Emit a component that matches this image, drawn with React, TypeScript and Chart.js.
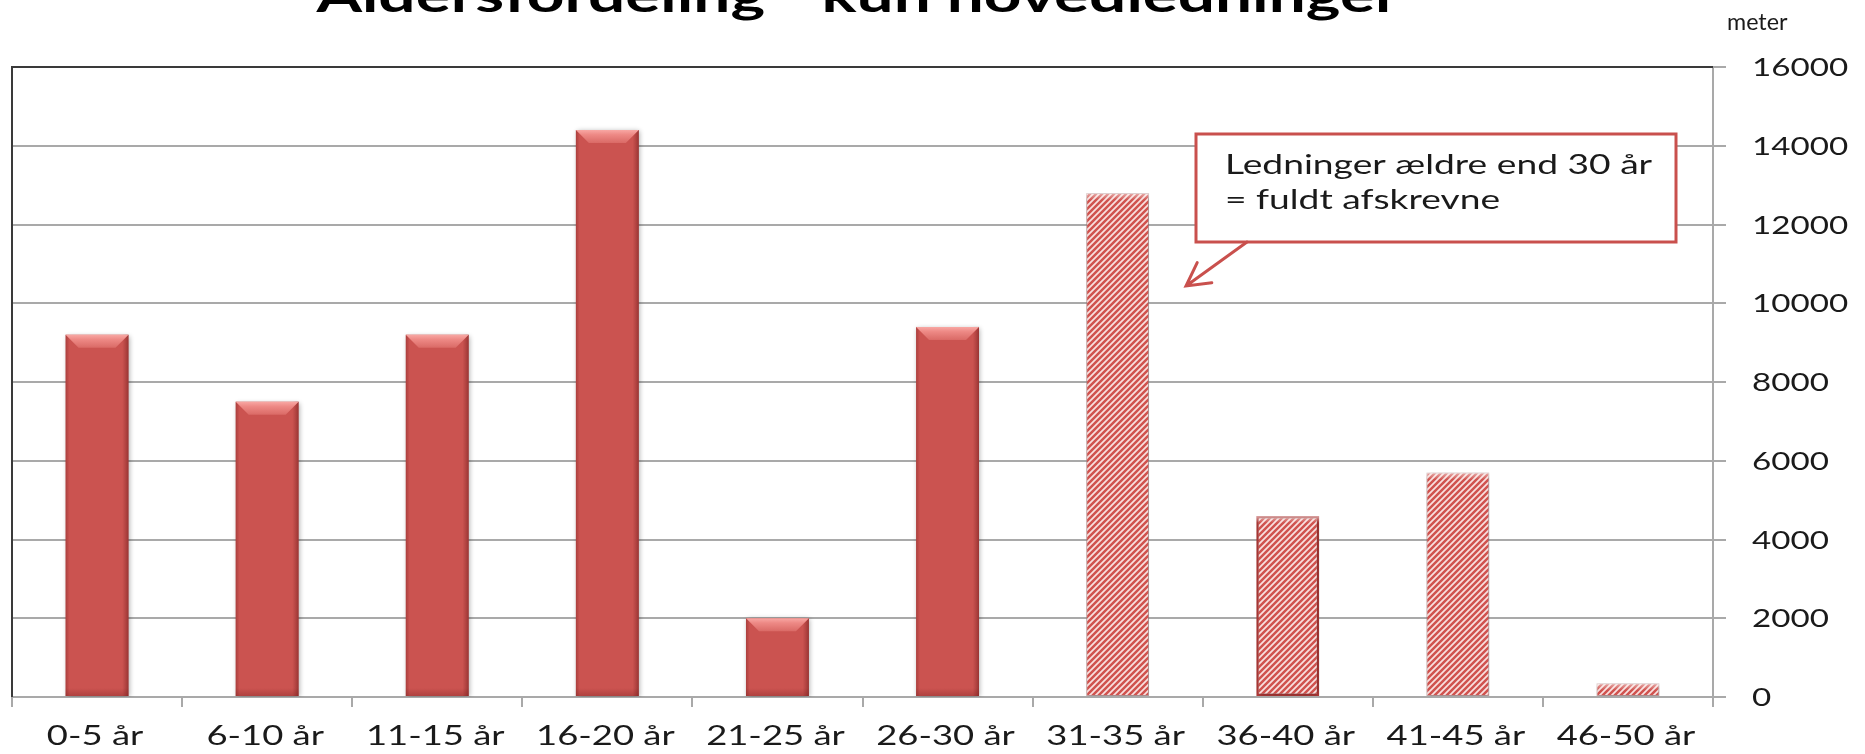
import React, { useEffect, useRef } from 'react';
import { Chart, registerables } from 'chart.js';

Chart.register(...registerables);

// ---- data ----
const categories = ['0-5 år', '6-10 år', '11-15 år', '16-20 år', '21-25 år', '26-30 år', '31-35 år', '36-40 år', '41-45 år', '46-50 år'];
const meters = [9200, 7500, 9200, 14400, 2000, 9400, 12800, 4600, 5700, 350];
const fullyWrittenOff = [false, false, false, false, false, false, true, true, true, true];
const yMin = 0;
const yMax = 16000;
const yStep = 2000;
const titleText = 'Aldersfordeling - kun hovedledninger';
const unitLabel = 'meter';
const noteLines = ['Ledninger ældre end 30 år', '= fuldt afskrevne'];

// ---- style ----
const W = 1865;
const H = 754;
const SOLID = '#CB5350';
const GRID = '#A9A9A9';
const TEXT = '#1A1A1A';
const RED_LINE = '#C9504D';
const FONT = 'Lato, "Open Sans", sans-serif';
const SX = 1.3; // horizontal stretch of the reference's text

function drawText(ctx: CanvasRenderingContext2D, text: string, x: number, y: number, font: string, align: 'left' | 'center' | 'right', sx: number, color: string) {
  ctx.save();
  ctx.font = font;
  ctx.fillStyle = color;
  ctx.textAlign = 'left';
  ctx.textBaseline = 'alphabetic';
  const w = ctx.measureText(text).width * sx;
  const left = align === 'center' ? x - w / 2 : align === 'right' ? x - w : x;
  ctx.translate(left, y);
  ctx.scale(sx, 1);
  ctx.fillText(text, 0, 0);
  ctx.restore();
}

function makeHatch(): CanvasPattern | string {
  const c = document.createElement('canvas');
  c.width = 6;
  c.height = 6;
  const g = c.getContext('2d');
  if (!g) return '#E8A3A1';
  g.fillStyle = '#F8E0DF';
  g.fillRect(0, 0, 6, 6);
  g.strokeStyle = '#D0524E';
  g.lineWidth = 2.5;
  g.beginPath();
  g.moveTo(-1, 7); g.lineTo(7, -1);
  g.moveTo(-4, 4); g.lineTo(4, -4);
  g.moveTo(2, 10); g.lineTo(10, 2);
  g.stroke();
  return g.createPattern(c, 'repeat') || '#E8A3A1';
}

const decor = {
  id: 'decor',
  beforeDatasetsDraw(chart: any) {
    const { ctx, chartArea: a } = chart;
    ctx.save();
    ctx.strokeStyle = '#3A3A3A';
    ctx.lineWidth = 2;
    ctx.beginPath();
    ctx.moveTo(a.left, a.bottom);
    ctx.lineTo(a.left, a.top);
    ctx.lineTo(a.right, a.top);
    ctx.stroke();
    ctx.restore();
    ctx.save();
    ctx.shadowColor = 'rgba(0,0,0,0.33)';
    ctx.shadowBlur = 5;
    ctx.shadowOffsetX = 1;
    ctx.shadowOffsetY = 1;
  },
  afterDatasetsDraw(chart: any) {
    const { ctx } = chart;
    ctx.restore();
    const meta = chart.getDatasetMeta(0);
    meta.data.forEach((el: any, i: number) => {
      const p = el.getProps(['x', 'y', 'base', 'width'], true);
      const left = p.x - p.width / 2;
      const right = p.x + p.width / 2;
      const top = Math.min(p.y, p.base);
      const bottom = Math.max(p.y, p.base);
      const h = bottom - top;
      ctx.save();
      if (!fullyWrittenOff[i]) {
        const sg = ctx.createLinearGradient(left, 0, right, 0);
        sg.addColorStop(0, 'rgba(110,25,25,0.35)');
        sg.addColorStop(0.06, 'rgba(110,25,25,0.0)');
        sg.addColorStop(0.9, 'rgba(110,25,25,0.0)');
        sg.addColorStop(1, 'rgba(90,15,15,0.45)');
        ctx.fillStyle = sg;
        ctx.fillRect(left, top, p.width, h);
        const bg = ctx.createLinearGradient(0, bottom - 8, 0, bottom);
        bg.addColorStop(0, 'rgba(110,25,25,0)');
        bg.addColorStop(1, 'rgba(110,25,25,0.3)');
        ctx.fillStyle = bg;
        ctx.fillRect(left, bottom - 8, p.width, 8);
        const bh = Math.min(13, h / 3);
        const inset = Math.min(13, p.width / 4);
        const tg = ctx.createLinearGradient(0, top, 0, top + bh);
        tg.addColorStop(0, '#F8A8A4');
        tg.addColorStop(0.35, '#EE8A86');
        tg.addColorStop(1, '#DA6A66');
        ctx.fillStyle = tg;
        ctx.beginPath();
        ctx.moveTo(left, top);
        ctx.lineTo(right, top);
        ctx.lineTo(right - inset, top + bh);
        ctx.lineTo(left + inset, top + bh);
        ctx.closePath();
        ctx.fill();
      } else {
        const tg = ctx.createLinearGradient(0, top, 0, top + 7);
        tg.addColorStop(0, 'rgba(255,255,255,0.55)');
        tg.addColorStop(1, 'rgba(255,255,255,0)');
        ctx.fillStyle = tg;
        ctx.fillRect(left, top, p.width, Math.min(7, h));
      }
      ctx.restore();
    });

    // annotation callout
    const bx = 1196, by = 134, bw = 480, bhh = 108;
    ctx.save();
    ctx.fillStyle = '#FFFFFF';
    ctx.fillRect(bx, by, bw, bhh);
    ctx.strokeStyle = RED_LINE;
    ctx.lineWidth = 3;
    ctx.strokeRect(bx, by, bw, bhh);
    const sx0 = 1247, sy0 = by + bhh, tx = 1186, ty = 286;
    ctx.lineCap = 'round';
    ctx.beginPath();
    ctx.moveTo(sx0, sy0);
    ctx.lineTo(tx, ty);
    const ang = Math.atan2(sy0 - ty, sx0 - tx);
    const wing = 26;
    ctx.moveTo(tx + wing * Math.cos(ang - 0.5), ty + wing * Math.sin(ang - 0.5));
    ctx.lineTo(tx, ty);
    ctx.lineTo(tx + wing * Math.cos(ang + 0.5), ty + wing * Math.sin(ang + 0.5));
    ctx.stroke();
    ctx.restore();
    noteLines.forEach((line, k) => {
      drawText(ctx, line, 1225, 174 + k * 35, `26px ${FONT}`, 'left', 1.43, TEXT);
    });
  },
  afterDraw(chart: any) {
    const { ctx } = chart;
    const xs = chart.scales.x;
    const ys = chart.scales.y;
    ys.ticks.forEach((t: any, i: number) => {
      const y = ys.getPixelForTick(i);
      drawText(ctx, String(t.value), 1752, y + 9, `25.5px ${FONT}`, 'left', SX, TEXT);
    });
    categories.forEach((lab, i) => {
      const x = xs.getPixelForTick(i);
      drawText(ctx, lab, x - 2, 745, `26px ${FONT}`, 'center', 1.4, TEXT);
    });
    drawText(ctx, unitLabel, 1727, 30, `24px ${FONT}`, 'left', 0.97, TEXT);
    ctx.save();
    const tf = `bold 46px ${FONT}`;
    ctx.font = tf;
    const tw = ctx.measureText(titleText).width;
    ctx.restore();
    drawText(ctx, titleText, 858, 12, tf, 'center', 1083 / tw, '#000000');
  },
};

export default function App() {
  const ref = useRef<HTMLCanvasElement>(null);
  useEffect(() => {
    const canvas = ref.current;
    if (!canvas) return;
    const hatch = makeHatch();
    const chart = new Chart(canvas, {
      type: 'bar',
      data: {
        labels: categories,
        datasets: [
          {
            data: meters,
            backgroundColor: meters.map((_, i) => (fullyWrittenOff[i] ? hatch : SOLID)) as any,
            borderColor: meters.map((_, i) => (i === 7 ? '#B23A38' : fullyWrittenOff[i] ? 'rgba(190,140,140,0.7)' : 'rgba(0,0,0,0)')),
            borderWidth: meters.map((_, i) => (i === 7 ? 2.5 : fullyWrittenOff[i] ? 1 : 0)),
            borderSkipped: false,
            barPercentage: 0.37,
            categoryPercentage: 1,
          },
        ],
      },
      options: {
        responsive: false,
        animation: false,
        devicePixelRatio: 1,
        layout: { padding: { left: 12, top: 67, right: 0, bottom: 0 } },
        plugins: {
          legend: { display: false },
          tooltip: { enabled: false },
          title: { display: false },
        },
        scales: {
          x: {
            offset: true,
            grid: { offset: true, drawOnChartArea: false, drawTicks: true, tickLength: 10, color: GRID, lineWidth: 2 },
            border: { display: true, color: GRID, width: 2 },
            ticks: { display: false },
            afterFit: (s: any) => { s.height = 57; },
          },
          y: {
            position: 'right',
            min: yMin,
            max: yMax,
            ticks: { stepSize: yStep, display: false },
            grid: { color: GRID, lineWidth: 2, drawTicks: true, tickLength: 13 },
            border: { display: true, color: GRID, width: 2 },
            afterFit: (s: any) => { s.width = 152; },
          },
        },
      } as any,
      plugins: [decor],
    });
    let alive = true;
    if ((document as any).fonts) {
      Promise.all([
        (document as any).fonts.load(`24px Lato`),
        (document as any).fonts.load(`bold 46px Lato`),
      ]).then(() => { if (alive) chart.draw(); }).catch(() => {});
    }
    return () => { alive = false; chart.destroy(); };
  }, []);
  return (
    <div style={{ position: 'fixed', left: 0, top: 0, width: W, height: H, background: '#FFFFFF' }}>
      <canvas ref={ref} width={W} height={H} style={{ display: 'block', width: W, height: H }} />
    </div>
  );
}
